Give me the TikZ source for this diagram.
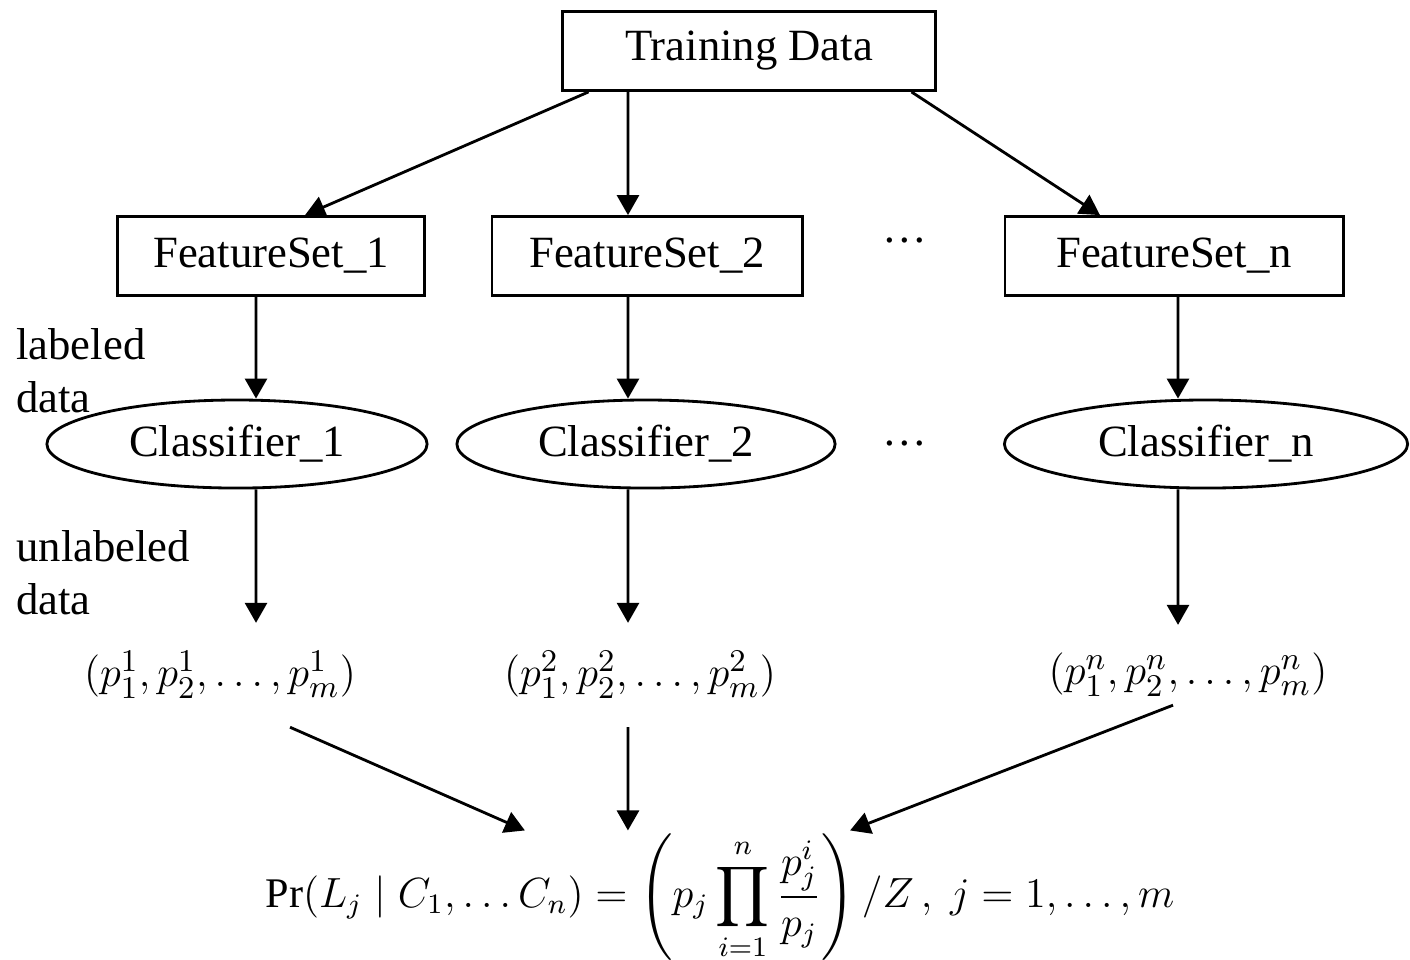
\documentclass[tikz,border=0pt]{standalone}
\usepackage{fontspec}
\setmainfont{Liberation Serif}
\usepackage{amsmath}
\usetikzlibrary{shapes.geometric, arrows.meta}

\begin{document}
\begin{tikzpicture}[x=0.01cm, y=-0.01cm, line width=0.8pt,
  font=\fontsize{12.7}{15}\selectfont,
  box/.style = {draw, rectangle, minimum height=0.79cm},
  clf/.style = {draw, ellipse, minimum height=0.88cm, inner sep=0pt},
  prob/.style = {inner xsep=0pt, inner ysep=0.27cm},
  arr/.style = {-{Triangle[width=0.22cm, length=0.2cm]}}]
  \useasboundingbox (0,0) rectangle (1410,959);
  \node[box, minimum width=3.72cm] (train) at (749,51) {Training Data};
  \node[box, minimum width=3.07cm] (fs1) at (271,256) {FeatureSet\_1};
  \node[box, minimum width=3.10cm] (fs2) at (647,256) {FeatureSet\_2};
  \node[box, minimum width=3.38cm] (fsn) at (1174,256) {FeatureSet\_n};
  \node (dots1) at (905,240) {\dots};
  \node[clf, minimum width=3.80cm] (cl1) at (237,444) {Classifier\_1};
  \node[clf, minimum width=3.78cm] (cl2) at (646,444) {Classifier\_2};
  \node[clf, minimum width=4.03cm] (cln) at (1206,444) {Classifier\_n};
  \node (dots2) at (905,443) {\dots};
  \node[anchor=west, align=left, inner xsep=0pt] (lab) at (15,371) {labeled\\data};
  \node[anchor=west, align=left, inner xsep=0pt] (unlab) at (15,573) {unlabeled\\data};
  \node[prob] (t1) at (220,675) {$(p_1^1, p_2^1, \ldots, p_m^1)$};
  \node[prob] (t2) at (640,675) {$(p_1^2, p_2^2, \ldots, p_m^2)$};
  \node[prob] (tn) at (1188,675) {$(p_1^n, p_2^n, \ldots, p_m^n)$};
  \node[font=\fontsize{12}{14}\selectfont] (pr) at (720,897) {$\displaystyle \Pr(L_j \mid C_1, \ldots C_n) = \left( p_j \prod_{i=1}^{n} \frac{p_j^i}{p_j} \right) / Z\,,\ j = 1, \ldots, m$};
  % training data to feature sets
  \draw[arr] ([xshift=0.27cm]train.south west) -- ([xshift=0.34cm]fs1.north);
  \draw[arr] ([xshift=-1.21cm]train.south) -- ([xshift=-0.19cm]fs2.north);
  \draw[arr] ([xshift=-0.25cm]train.south east) -- ([xshift=-0.74cm]fsn.north);
  % feature sets to classifiers
  \draw[arr] ([xshift=-0.15cm]fs1.south) -- ([xshift=0.19cm]cl1.north);
  \draw[arr] ([xshift=-0.19cm]fs2.south) -- ([xshift=-0.18cm]cl2.north);
  \draw[arr] ([xshift=0.04cm]fsn.south) -- ([xshift=-0.28cm]cln.north);
  % classifiers to probabilities
  \draw[arr] ([xshift=0.19cm]cl1.south) -- ([xshift=0.36cm]t1.north);
  \draw[arr] ([xshift=-0.18cm]cl2.south) -- ([xshift=-0.12cm]t2.north);
  \draw[arr] ([xshift=-0.28cm]cln.south) -- ([xshift=-0.10cm]tn.north);
  % combination
  \draw[arr] ([xshift=0.70cm]t1.south) -- ([xshift=-1.95cm, yshift=-0.1cm]pr.north);
  \draw[arr] ([xshift=-0.12cm]t2.south) -- ([xshift=-0.92cm, yshift=-0.1cm]pr.north);
  \draw[arr] ([xshift=-0.15cm, yshift=0.2cm]tn.south) -- ([xshift=1.3cm, yshift=-0.1cm]pr.north);
\end{tikzpicture}
\end{document}
